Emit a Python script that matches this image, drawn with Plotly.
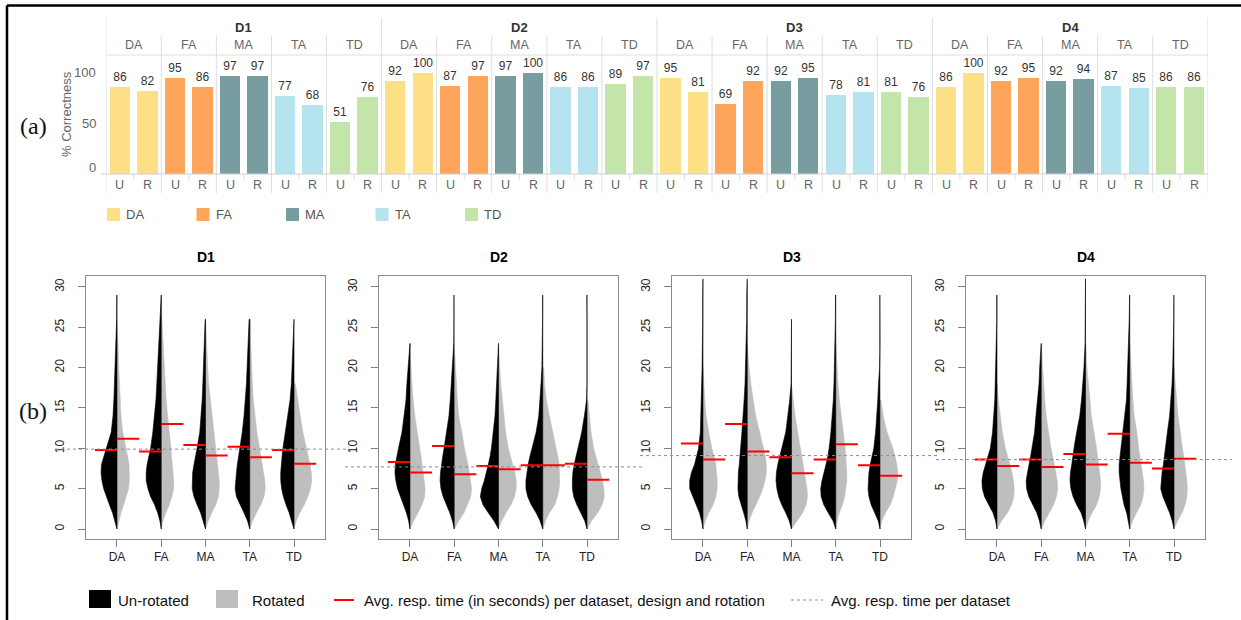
import plotly.graph_objects as go

W, H = 1241, 620

# ---------------- data ----------------
DATASETS = ["D1", "D2", "D3", "D4"]
DESIGNS = ["DA", "FA", "MA", "TA", "TD"]
ROTATIONS = ["U", "R"]
DESIGN_COLORS = ["#FDE085", "#FDA55A", "#789DA1", "#B5E3EF", "#C3E5A9"]

# % correctness, per dataset, design order DA FA MA TA TD
CORRECT_U = [[86, 95, 97, 77, 51], [92, 87, 97, 86, 89], [95, 69, 92, 78, 81], [86, 92, 92, 87, 86]]
CORRECT_R = [[82, 86, 97, 68, 76], [100, 97, 100, 86, 97], [81, 92, 95, 81, 76], [100, 95, 94, 85, 86]]
BAR_TICKS = [0, 50, 100]

# average response time (s) per dataset / design / rotation
AVG_U = [[9.8, 9.6, 10.4, 10.2, 9.8], [8.3, 10.3, 7.8, 7.9, 8.1], [10.6, 13.0, 8.9, 8.6, 7.9], [8.6, 8.6, 9.3, 11.8, 7.5]]
AVG_R = [[11.2, 13.0, 9.1, 8.9, 8.1], [7.0, 6.8, 7.4, 7.9, 6.1], [8.6, 9.6, 6.9, 10.5, 6.6], [7.8, 7.7, 8.0, 8.2, 8.7]]
AVG_DATASET = [9.9, 7.7, 9.1, 8.6]
TIME_TICKS = [0, 5, 10, 15, 20, 25, 30]

# bean half-widths (x units) read at these response-time levels
Y_GRID = [0, 1, 2, 3, 4, 5, 6, 7, 8, 9, 10, 12, 14, 16, 18, 20, 23, 26, 29, 31]
WIDTH_U = [
    [[0, .05, .1, .17, .24, .3, .34, .36, .35, .3, .24, .13, .09, .07, .055, .045, .03, .008, .004, 0],
     [0, .03, .08, .15, .24, .3, .34, .34, .32, .28, .24, .19, .15, .12, .1, .08, .05, .02, .004, 0],
     [0, .05, .11, .19, .26, .3, .3, .29, .26, .22, .19, .13, .1, .075, .06, .05, .035, .008, 0, 0],
     [0, .05, .13, .22, .3, .33, .32, .3, .28, .25, .22, .17, .13, .1, .075, .06, .04, .015, 0, 0],
     [0, .05, .11, .18, .24, .28, .3, .3, .29, .27, .25, .2, .14, .09, .06, .045, .03, .006, 0, 0]],
    [[0, .03, .08, .15, .22, .28, .32, .34, .33, .3, .26, .18, .13, .09, .07, .04, .004, 0, 0, 0],
     [0, .04, .1, .18, .25, .3, .32, .31, .29, .26, .23, .17, .12, .09, .07, .05, .01, .006, .006, 0],
     [0, .1, .23, .35, .41, .38, .32, .27, .23, .19, .16, .12, .08, .06, .045, .03, .01, 0, 0, 0],
     [0, .06, .15, .26, .34, .38, .38, .36, .33, .29, .24, .15, .09, .06, .04, .02, .004, .004, .004, 0],
     [0, .05, .14, .23, .3, .33, .33, .32, .29, .25, .21, .12, .06, .01, 0, .004, .008, 0, .004, 0]],
    [[0, .03, .08, .15, .23, .3, .3, .26, .19, .14, .1, .06, .045, .035, .03, .02, .008, .006, .006, .004],
     [0, .03, .08, .14, .19, .21, .21, .2, .18, .17, .15, .12, .09, .07, .05, .04, .015, .012, .01, .008],
     [0, .05, .13, .22, .29, .33, .35, .34, .31, .27, .22, .13, .08, .04, .01, .006, .006, .004, 0, 0],
     [0, .06, .17, .27, .33, .34, .31, .26, .22, .18, .15, .11, .075, .055, .04, .03, .015, .008, .006, 0],
     [0, .04, .12, .2, .25, .27, .26, .25, .22, .18, .14, .1, .07, .05, .035, .01, 0, 0, .004, 0]],
    [[0, .03, .09, .19, .28, .33, .34, .31, .26, .2, .15, .1, .07, .05, .04, .03, .01, .004, .004, 0],
     [0, .04, .1, .19, .28, .33, .34, .31, .27, .24, .21, .15, .12, .08, .05, .035, .005, 0, 0, 0],
     [0, .04, .1, .2, .28, .33, .35, .34, .31, .29, .26, .2, .13, .09, .055, .035, .01, .006, .006, .004],
     [0, .03, .07, .13, .17, .2, .22, .24, .24, .22, .2, .16, .11, .075, .06, .045, .025, .012, .004, 0],
     [0, .04, .1, .17, .25, .3, .29, .27, .24, .22, .2, .15, .1, .07, .045, .03, .015, .005, .003, 0]],
]
WIDTH_R = [
    [[0, .04, .09, .15, .21, .26, .28, .28, .27, .24, .2, .13, .09, .07, .05, .04, .025, .01, 0, 0],
     [0, .04, .1, .18, .24, .28, .28, .27, .25, .23, .22, .18, .14, .11, .09, .07, .04, .015, .003, 0],
     [0, .06, .14, .23, .29, .31, .31, .29, .27, .24, .22, .18, .14, .1, .07, .05, .03, .01, 0, 0],
     [0, .06, .15, .25, .32, .35, .34, .31, .28, .25, .22, .16, .12, .08, .06, .04, .02, .01, 0, 0],
     [0, .05, .13, .23, .31, .37, .4, .39, .36, .32, .28, .2, .14, .09, .03, 0, 0, 0, 0, 0]],
    [[0, .08, .18, .27, .33, .34, .32, .3, .28, .25, .22, .16, .11, .07, .04, .02, .005, 0, 0, 0],
     [0, .1, .22, .3, .37, .39, .37, .34, .31, .27, .23, .17, .1, .07, .05, .03, .01, 0, 0, 0],
     [0, .07, .17, .28, .36, .4, .4, .37, .32, .27, .22, .16, .12, .08, .05, .03, .01, 0, 0, 0],
     [0, .06, .15, .27, .33, .37, .38, .38, .37, .34, .3, .22, .15, .08, .04, .02, 0, 0, 0, 0],
     [0, .1, .24, .34, .39, .38, .35, .3, .24, .19, .15, .09, .05, .02, 0, 0, 0, 0, 0, 0]],
    [[0, .05, .13, .23, .29, .32, .32, .31, .29, .25, .2, .13, .07, .04, .02, .01, 0, 0, 0, 0],
     [0, .04, .11, .2, .28, .35, .4, .43, .43, .41, .37, .28, .19, .13, .08, .04, .01, 0, 0, 0],
     [0, .12, .25, .33, .36, .35, .32, .29, .26, .22, .19, .14, .08, .04, .01, 0, 0, 0, 0, 0],
     [0, .03, .08, .15, .2, .23, .25, .25, .24, .23, .21, .17, .12, .08, .05, .03, .01, 0, 0, 0],
     [0, .04, .12, .23, .3, .35, .39, .4, .38, .34, .29, .16, .07, .02, 0, 0, 0, 0, 0, 0]],
    [[0, .1, .24, .33, .38, .39, .37, .34, .29, .24, .19, .12, .07, .03, .01, 0, 0, 0, 0, 0],
     [0, .08, .18, .28, .34, .37, .36, .33, .3, .26, .22, .16, .11, .08, .05, .03, .01, 0, 0, 0],
     [0, .06, .15, .25, .31, .34, .34, .32, .3, .28, .25, .19, .13, .1, .07, .03, .01, 0, 0, 0],
     [0, .06, .15, .25, .3, .32, .31, .28, .25, .22, .2, .16, .1, .07, .05, .03, .01, 0, 0, 0],
     [0, .08, .18, .25, .29, .3, .29, .27, .25, .22, .19, .14, .09, .06, .03, .015, 0, 0, 0, 0]],
]
LEGEND_B = ["Un-rotated", "Rotated",
            "Avg. resp. time (in seconds) per dataset, design and rotation",
            "Avg. resp. time per dataset"]

# ---------------- helpers ----------------
FONT = "Arial"


def px(x):
    return x / W


def py(y):
    return 1 - y / H


def ann(text, x, y, xref="paper", yref="paper", size=12, color="#333333", xanchor="center",
        family=FONT, **kw):
    d = dict(text=text, x=x, y=y, xref=xref, yref=yref, showarrow=False, xanchor=xanchor,
             yanchor="middle", font=dict(family=family, size=size, color=color))
    d.update(kw)
    return d


fig = go.Figure()
shapes = []
annotations = []

# ---------------- (a) bar chart ----------------
bx, by, bc, bt = [], [], [], []
for i in range(len(DATASETS)):
    for j in range(len(DESIGNS)):
        for k, vals in enumerate([CORRECT_U, CORRECT_R]):
            pos = i * 10 + j * 2 + k
            bx.append(pos)
            by.append(vals[i][j])
            bc.append(DESIGN_COLORS[j])
            bt.append(str(vals[i][j]))
fig.add_trace(go.Bar(
    x=bx, y=by, marker=dict(color=bc, line=dict(width=0)), width=0.74,
    text=bt, textposition="outside", constraintext="none", cliponaxis=False,
    textfont=dict(family=FONT, size=12, color="#333333"),
    xaxis="x", yaxis="y", showlegend=False, hoverinfo="skip"))

GRID = "#dedede"
n_groups = len(DATASETS) * len(DESIGNS)
for g in range(n_groups + 1):
    xg = -0.5 + 2 * g
    top = 18 if g % 5 == 0 else 36
    shapes.append(dict(type="line", xref="x", yref="paper", x0=xg, x1=xg,
                       y0=py(top), y1=py(193), line=dict(color=GRID, width=1), layer="below"))
for g in range(n_groups):
    xc = 2 * g + 0.5
    shapes.append(dict(type="line", xref="x", yref="paper", x0=xc, x1=xc,
                       y0=py(174), y1=py(180), line=dict(color=GRID, width=1)))
shapes.append(dict(type="line", xref="paper", yref="paper", x0=px(106), x1=px(1208),
                   y0=py(55), y1=py(55), line=dict(color=GRID, width=1)))
shapes.append(dict(type="line", xref="paper", yref="paper", x0=px(101), x1=px(1208),
                   y0=py(174), y1=py(174), line=dict(color="#cfcfcf", width=1)))

for i, d in enumerate(DATASETS):
    annotations.append(ann("<b>%s</b>" % d, i * 10 + 4.5, py(27), xref="x", size=13, color="#333333"))
    for j, des in enumerate(DESIGNS):
        g = i * 5 + j
        annotations.append(ann(des, 2 * g + 0.5, py(44.5), xref="x", size=12.5, color="#666666"))
        for k, r in enumerate(ROTATIONS):
            annotations.append(ann(r, 2 * g + k, py(185), xref="x", size=12.5, color="#666666"))
for t in BAR_TICKS:
    annotations.append(ann(str(t), px(98), t, yref="y", xanchor="right", size=13, color="#666666",
                           yshift=7 if t == 0 else 0))
annotations.append(ann("% Correctness", px(67), py(114), size=13, color="#666666", textangle=-90))
for j, des in enumerate(DESIGNS):
    x0 = 107 + j * 89.5
    shapes.append(dict(type="rect", xref="paper", yref="paper", x0=px(x0), x1=px(x0 + 13),
                       y0=py(221), y1=py(208), fillcolor=DESIGN_COLORS[j], line=dict(width=0)))
    annotations.append(ann(des, px(x0 + 17), py(214.5), xanchor="left", size=13, color="#555555"))

# ---------------- (b) bean plots ----------------
PANEL_LEFT = [86, 379, 672, 966]
PANEL_W = 239
FIG_REGION = [(55, 348), (345, 643), (640, 937), (936, 1232)]
layout_axes = {}
for p, d in enumerate(DATASETS):
    n = p + 2
    xa, ya = "x%d" % n, "y%d" % n
    layout_axes["xaxis%d" % n] = dict(
        domain=[px(PANEL_LEFT[p]), px(PANEL_LEFT[p] + PANEL_W)], range=[0.3, 5.7], anchor=ya,
        tickvals=[1, 2, 3, 4, 5], ticktext=DESIGNS, ticks="outside", ticklen=7, tickcolor="#808080",
        showline=True, mirror=True, linecolor="#8a8a8a", linewidth=1, showgrid=False, zeroline=False,
        tickfont=dict(family=FONT, size=12, color="#222222"), fixedrange=True)
    layout_axes["yaxis%d" % n] = dict(
        domain=[py(539), py(275.6)], range=[-1.24, 31.41], anchor=xa,
        tickvals=TIME_TICKS, tickangle=-90, ticks="outside", ticklen=7, tickcolor="#808080",
        showline=True, mirror=True, linecolor="#8a8a8a", linewidth=1, showgrid=False, zeroline=False,
        ticklabelstandoff=9,
        tickfont=dict(family=FONT, size=12, color="#222222"), fixedrange=True)

    for j in range(len(DESIGNS)):
        c = j + 1
        for side, widths, col in ((1, WIDTH_R[p][j], "#BEBEBE"), (-1, WIDTH_U[p][j], "#000000")):
            last = max(i for i, w in enumerate(widths) if w > 0)
            m = last + 1
            xs = [c + side * w for w in widths[:m]] + [c, c]
            ys = Y_GRID[:m] + [Y_GRID[m - 1], 0]
            fig.add_trace(go.Scatter(x=xs, y=ys, mode="lines", fill="toself", fillcolor=col,
                                     line=dict(color=col, width=0.6), xaxis=xa, yaxis=ya,
                                     showlegend=False, hoverinfo="skip"))
    rx, ry = [], []
    for j in range(len(DESIGNS)):
        c = j + 1
        rx += [c - 0.5, c, None, c, c + 0.5, None]
        ry += [AVG_U[p][j], AVG_U[p][j], None, AVG_R[p][j], AVG_R[p][j], None]
    fig.add_trace(go.Scatter(x=rx, y=ry, mode="lines", line=dict(color="#FF0000", width=2),
                             xaxis=xa, yaxis=ya, showlegend=False, hoverinfo="skip", cliponaxis=False))
    f0, f1 = FIG_REGION[p]
    shapes.append(dict(type="line", xref="paper", yref=ya, x0=px(f0), x1=px(f1),
                       y0=AVG_DATASET[p], y1=AVG_DATASET[p], line=dict(color="#8c8c8c", width=1, dash="dot")))
    annotations.append(ann("<b>%s</b>" % d, 0.5, py(257), xref="%s domain" % xa, size=14, color="#000000"))

# bottom legend
shapes.append(dict(type="rect", xref="paper", yref="paper", x0=px(89), x1=px(111), y0=py(608), y1=py(590),
                   fillcolor="#000000", line=dict(width=0)))
shapes.append(dict(type="rect", xref="paper", yref="paper", x0=px(216), x1=px(238), y0=py(608), y1=py(590),
                   fillcolor="#BEBEBE", line=dict(width=0)))
shapes.append(dict(type="line", xref="paper", yref="paper", x0=px(334), x1=px(354), y0=py(600), y1=py(600),
                   line=dict(color="#FF0000", width=2)))
shapes.append(dict(type="line", xref="paper", yref="paper", x0=px(791), x1=px(823), y0=py(600), y1=py(600),
                   line=dict(color="#8c8c8c", width=1, dash="dot")))
for txt, x0 in zip(LEGEND_B, [116, 250, 362, 829]):
    annotations.append(ann(txt, px(x0), py(600), xanchor="left", size=15, color="#111111"))

# panel letters
for txt, yy in (("(a)", 126), ("(b)", 411)):
    annotations.append(ann(txt, px(33), py(yy), size=24, color="#111111", family="Liberation Serif, serif"))

# outer frame (top and left)
shapes.append(dict(type="line", xref="paper", yref="paper", x0=px(7), x1=1, y0=py(5.5), y1=py(5.5),
                   line=dict(color="#000000", width=2.5)))
shapes.append(dict(type="line", xref="paper", yref="paper", x0=px(7), x1=px(7), y0=py(5.5), y1=0,
                   line=dict(color="#000000", width=2.5)))

fig.update_layout(
    width=W, height=H, autosize=False, margin=dict(l=0, r=0, t=0, b=0),
    paper_bgcolor="white", plot_bgcolor="white", showlegend=False, bargap=0,
    xaxis=dict(domain=[px(106.2), px(1207.8)], range=[-0.5, 39.5], visible=False, fixedrange=True, anchor="y"),
    yaxis=dict(domain=[py(174), py(55)], range=[0, 117.8], visible=False, fixedrange=True, anchor="x"),
    shapes=shapes, annotations=annotations, **layout_axes)

fig.write_html("out.html", config={"displayModeBar": False})
